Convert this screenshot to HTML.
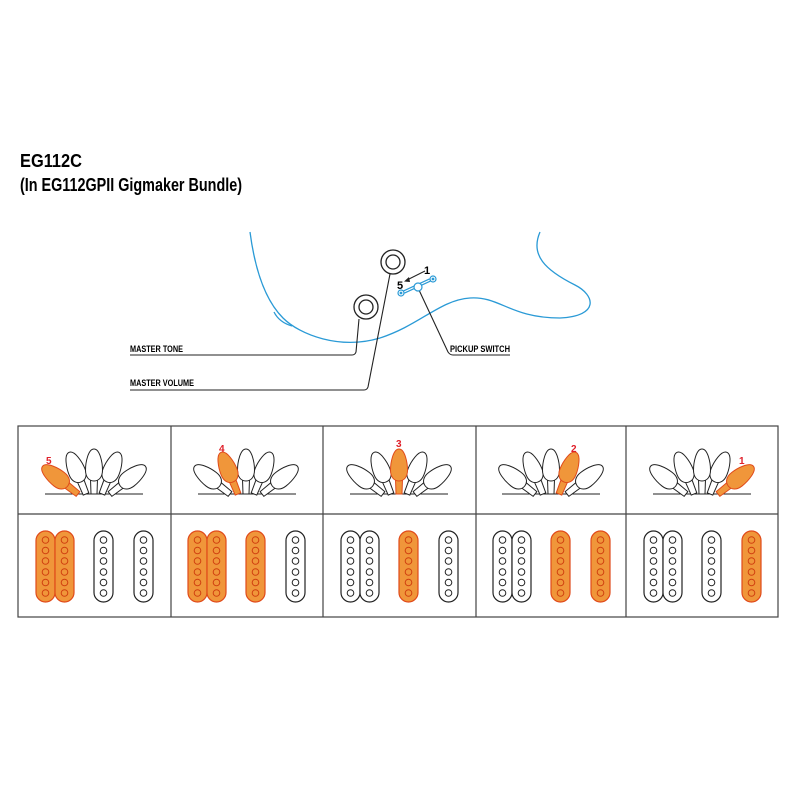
<!DOCTYPE html>
<html><head><meta charset="utf-8"><style>
body{margin:0;background:#fff}
svg{display:block}
text{font-family:"Liberation Sans",sans-serif;font-weight:bold}
</style></head><body>
<svg width="800" height="800" viewBox="0 0 800 800" xmlns="http://www.w3.org/2000/svg">
<defs>
<g id="pw"><path d="M-3.5,-15 L3.5,-15 L3,0 L-3,0 Z" fill="#fff" stroke="#222" stroke-width="1"/><path d="M0,-45 C6,-45 8.5,-31 8.5,-24 C8.5,-17 5,-13 0,-13 C-5,-13 -8.5,-17 -8.5,-24 C-8.5,-31 -6,-45 0,-45 Z" fill="#fff" stroke="#222" stroke-width="1"/></g>
<g id="po"><path d="M-3.5,-15 L3.5,-15 L3,0 L-3,0 Z" fill="#f0963a" stroke="#e04a1a" stroke-width="1"/><path d="M0,-45 C6,-45 8.5,-31 8.5,-24 C8.5,-17 5,-13 0,-13 C-5,-13 -8.5,-17 -8.5,-24 C-8.5,-31 -6,-45 0,-45 Z" fill="#f0963a" stroke="#e04a1a" stroke-width="1"/></g>
<g id="sw"><rect x="0" y="0" width="19" height="71" rx="9.5" fill="#fff" stroke="#222" stroke-width="1.2"/>
<g fill="none" stroke="#222" stroke-width="1"><circle cx="9.5" cy="9" r="3.3"/><circle cx="9.5" cy="19.5" r="3.3"/><circle cx="9.5" cy="30" r="3.3"/><circle cx="9.5" cy="41" r="3.3"/><circle cx="9.5" cy="51.5" r="3.3"/><circle cx="9.5" cy="62" r="3.3"/></g></g>
<g id="so"><rect x="0" y="0" width="19" height="71" rx="9.5" fill="#f0963a" stroke="#e04a1a" stroke-width="1.2"/>
<g fill="none" stroke="#d04010" stroke-width="1"><circle cx="9.5" cy="9" r="3.3"/><circle cx="9.5" cy="19.5" r="3.3"/><circle cx="9.5" cy="30" r="3.3"/><circle cx="9.5" cy="41" r="3.3"/><circle cx="9.5" cy="51.5" r="3.3"/><circle cx="9.5" cy="62" r="3.3"/></g></g>
</defs>

<text x="20" y="167" font-size="18" textLength="62" lengthAdjust="spacingAndGlyphs">EG112C</text>
<text x="20" y="191" font-size="18" textLength="222" lengthAdjust="spacingAndGlyphs">(In EG112GPII Gigmaker Bundle)</text>

<g fill="none" stroke="#2a9ad6" stroke-width="1.3">
<path d="M250,232 C255,270 265,300 283,318 C300,335 340,350 380,338 C420,325 440,300 470,298 C500,296 510,318 560,318 C600,316 595,295 575,285 C545,270 530,255 540,232"/>
<path d="M274,312 C278,320 285,324 292,326"/>
</g>

<g fill="#fff" stroke="#222" stroke-width="1.3">
<circle cx="393" cy="262" r="12"/><circle cx="393" cy="262" r="7"/>
<circle cx="366" cy="307" r="12"/><circle cx="366" cy="307" r="7"/>
</g>
<g fill="none" stroke="#222" stroke-width="1.1">
<path d="M359,319 L356,352 Q355,355 352,355 L130,355"/>
<path d="M390,274 L368,387 Q367,390 364,390 L130,390"/>
<path d="M419,290 L448,352 Q450,355 453,355 L510,355"/>
</g>
<g stroke="#2a9ad6" stroke-width="1.2" fill="#fff">
<path d="M404,292 L430,280" stroke-width="3.5"/>
<path d="M404,292 L430,280" stroke="#fff" stroke-width="1.2"/>
<circle cx="401" cy="293" r="3"/><circle cx="401" cy="293" r="0.8" fill="#2a9ad6"/>
<circle cx="433" cy="279" r="3"/><circle cx="433" cy="279" r="0.8" fill="#2a9ad6"/>
<circle cx="418" cy="287" r="4"/>
</g>
<path d="M425,271 L407,280" stroke="#222" stroke-width="1" fill="none"/>
<path d="M404,281.5 L409,277 L410,282 Z" fill="#222"/>
<text x="397" y="289" font-size="11">5</text>
<text x="424" y="274" font-size="11">1</text>

<text x="130" y="352" font-size="9" textLength="53" lengthAdjust="spacingAndGlyphs">MASTER TONE</text>
<text x="130" y="386" font-size="9" textLength="64" lengthAdjust="spacingAndGlyphs">MASTER VOLUME</text>
<text x="450" y="352" font-size="9" textLength="60" lengthAdjust="spacingAndGlyphs">PICKUP SWITCH</text>

<g fill="none" stroke="#444" stroke-width="1.2">
<rect x="18" y="426" width="760" height="191"/>
<line x1="18" y1="514" x2="778" y2="514"/>
<line x1="171" y1="426" x2="171" y2="617"/>
<line x1="323" y1="426" x2="323" y2="617"/>
<line x1="476" y1="426" x2="476" y2="617"/>
<line x1="626" y1="426" x2="626" y2="617"/>
</g>

<g stroke="#222" stroke-width="1">
<line x1="45" y1="494" x2="143" y2="494"/>
<line x1="198" y1="494" x2="296" y2="494"/>
<line x1="350" y1="494" x2="448" y2="494"/>
<line x1="502" y1="494" x2="600" y2="494"/>
<line x1="653" y1="494" x2="751" y2="494"/>
</g>
<g><use href="#pw" transform="translate(86,494) rotate(-22)"/><use href="#pw" transform="translate(110,494) rotate(52)"/><use href="#pw" transform="translate(102,494) rotate(22)"/><use href="#pw" transform="translate(94,494)"/><use href="#po" transform="translate(78,494) rotate(-52)"/></g>
<g transform="translate(152,0)"><use href="#pw" transform="translate(78,494) rotate(-52)"/><use href="#pw" transform="translate(110,494) rotate(52)"/><use href="#pw" transform="translate(102,494) rotate(22)"/><use href="#pw" transform="translate(94,494)"/><use href="#po" transform="translate(86,494) rotate(-22)"/></g>
<g transform="translate(305,0)"><use href="#pw" transform="translate(78,494) rotate(-52)"/><use href="#pw" transform="translate(86,494) rotate(-22)"/><use href="#pw" transform="translate(110,494) rotate(52)"/><use href="#pw" transform="translate(102,494) rotate(22)"/><use href="#po" transform="translate(94,494)"/></g>
<g transform="translate(457,0)"><use href="#pw" transform="translate(78,494) rotate(-52)"/><use href="#pw" transform="translate(86,494) rotate(-22)"/><use href="#pw" transform="translate(110,494) rotate(52)"/><use href="#pw" transform="translate(94,494)"/><use href="#po" transform="translate(102,494) rotate(22)"/></g>
<g transform="translate(608,0)"><use href="#pw" transform="translate(78,494) rotate(-52)"/><use href="#pw" transform="translate(86,494) rotate(-22)"/><use href="#pw" transform="translate(102,494) rotate(22)"/><use href="#pw" transform="translate(94,494)"/><use href="#po" transform="translate(110,494) rotate(52)"/></g>

<g fill="#e0202a" font-size="10">
<text x="46" y="464">5</text>
<text x="219" y="452">4</text>
<text x="396" y="447">3</text>
<text x="571" y="452">2</text>
<text x="739" y="464">1</text>
</g>

<g transform="translate(36,531)"><use href="#so" x="0"/><use href="#so" x="19"/><use href="#sw" x="58"/><use href="#sw" x="98"/></g>
<g transform="translate(188,531)"><use href="#so" x="0"/><use href="#so" x="19"/><use href="#so" x="58"/><use href="#sw" x="98"/></g>
<g transform="translate(341,531)"><use href="#sw" x="0"/><use href="#sw" x="19"/><use href="#so" x="58"/><use href="#sw" x="98"/></g>
<g transform="translate(493,531)"><use href="#sw" x="0"/><use href="#sw" x="19"/><use href="#so" x="58"/><use href="#so" x="98"/></g>
<g transform="translate(644,531)"><use href="#sw" x="0"/><use href="#sw" x="19"/><use href="#sw" x="58"/><use href="#so" x="98"/></g>
</svg>
</body></html>
